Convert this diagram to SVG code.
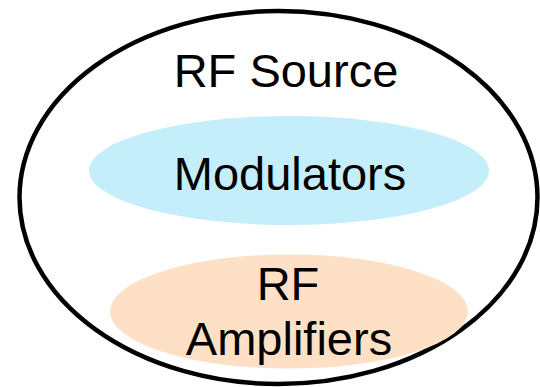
<svg xmlns="http://www.w3.org/2000/svg" width="540" height="387" viewBox="0 0 540 387">
<style>
text{font-family:"Liberation Sans",Arial,sans-serif;font-size:47px;fill:#000;text-anchor:middle}
</style>
<rect width="540" height="387" fill="#fff"/>
<g id="rf-source">
<ellipse cx="278.5" cy="197.5" rx="259" ry="186.5" fill="none" stroke="#000" stroke-width="4.5"/>
<text x="286" y="87">RF Source</text>
</g>
<g id="modulators">
<ellipse cx="289" cy="170.5" rx="200" ry="54.5" fill="#c5eefb"/>
<text x="290" y="190">Modulators</text>
</g>
<g id="rf-amplifiers">
<ellipse cx="289" cy="311.5" rx="179" ry="57" fill="#fde0c5"/>
<text x="288" y="300">RF</text>
<text x="289" y="355">Amplifiers</text>
</g>
<g id="connectors"/>
</svg>
